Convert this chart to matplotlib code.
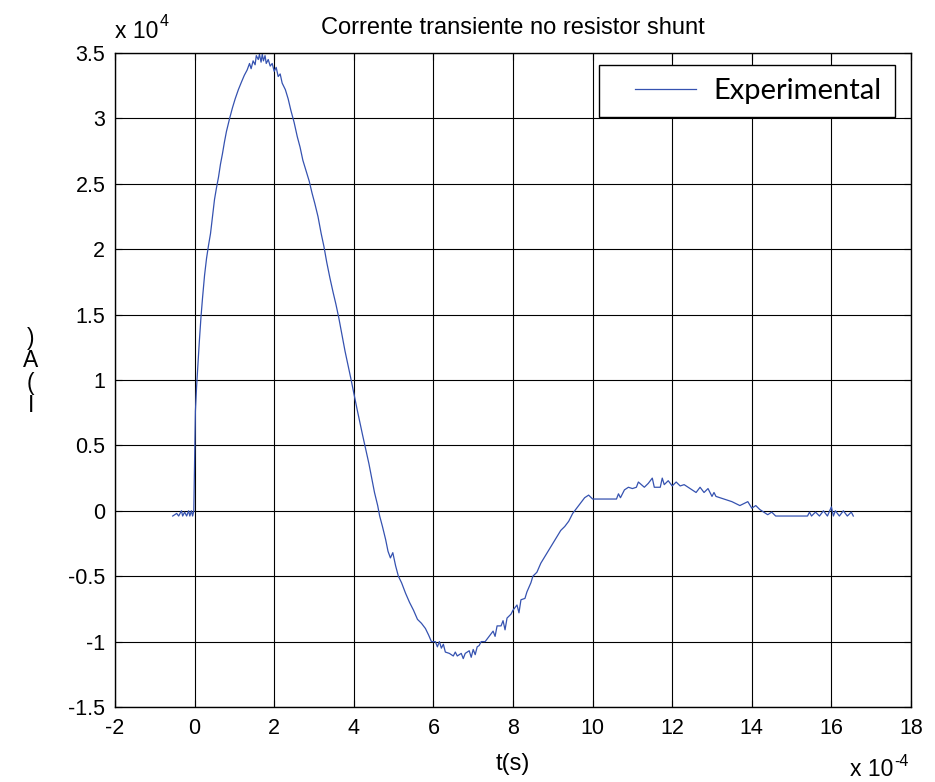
import matplotlib
matplotlib.use("Agg")
import matplotlib.pyplot as plt
from matplotlib.ticker import FuncFormatter
from matplotlib.legend_handler import HandlerLine2D
from matplotlib.lines import Line2D

# time in units of 1e-4 s, current in units of 1e4 A
t_vals = [-0.55, -0.45, -0.40, -0.33, -0.30, -0.25, -0.20, -0.15, -0.12, -0.08, -0.05, -0.02,
          0.00, 0.02, 0.05, 0.08, 0.12, 0.16, 0.20, 0.25, 0.30, 0.35, 0.40, 0.45, 0.50, 0.55,
          0.60, 0.65, 0.70, 0.75, 0.80, 0.88, 0.95, 1.02, 1.10, 1.18, 1.25, 1.32, 1.38, 1.42,
          1.47, 1.52, 1.55, 1.60, 1.63, 1.67, 1.70, 1.73, 1.77, 1.80, 1.85, 1.90, 1.95, 2.00,
          2.05, 2.10, 2.15, 2.20, 2.28, 2.35, 2.42, 2.50, 2.58, 2.65, 2.72, 2.80, 2.88, 2.95,
          3.02, 3.10, 3.18, 3.25, 3.32, 3.40, 3.48, 3.55, 3.62, 3.70, 3.78, 3.85, 3.92, 4.00,
          4.08, 4.15, 4.22, 4.30, 4.38, 4.45, 4.52, 4.60, 4.65, 4.72, 4.80, 4.86, 4.92, 4.98,
          5.05, 5.12, 5.20, 5.30, 5.40, 5.50, 5.60, 5.70, 5.80, 5.88, 5.95, 6.05, 6.10, 6.15,
          6.20, 6.25, 6.30, 6.40, 6.50, 6.55, 6.60, 6.70, 6.75, 6.80, 6.90, 6.95, 7.00, 7.05,
          7.10, 7.15, 7.20, 7.30, 7.40, 7.50, 7.55, 7.60, 7.70, 7.75, 7.80, 7.85, 7.95, 8.00,
          8.10, 8.15, 8.20, 8.30, 8.35, 8.45, 8.50, 8.60, 8.70, 8.80, 8.90, 9.00, 9.10, 9.20,
          9.30, 9.40, 9.50, 9.60, 9.70, 9.80, 9.90, 10.00, 10.20, 10.60, 10.65, 10.70, 10.80,
          10.90, 11.00, 11.10, 11.15, 11.30, 11.40, 11.50, 11.55, 11.70, 11.75, 11.80, 11.90,
          12.00, 12.10, 12.20, 12.30, 12.60, 12.70, 12.80, 12.90, 13.00, 13.05, 13.10, 13.50,
          13.70, 13.90, 14.00, 14.10, 14.20, 14.40, 14.50, 14.60, 15.40, 15.45, 15.50, 15.60,
          15.70, 15.80, 15.90, 16.00, 16.05, 16.10, 16.20, 16.30, 16.40, 16.50, 16.55]
i_vals = [-0.04, -0.02, -0.04, 0.00, -0.04, -0.01, -0.04, 0.00, -0.04, 0.00, -0.04, 0.00,
          0.40, 0.76, 0.95, 1.10, 1.30, 1.48, 1.63, 1.80, 1.93, 2.03, 2.12, 2.25, 2.38, 2.47,
          2.55, 2.65, 2.73, 2.82, 2.90, 3.00, 3.08, 3.15, 3.22, 3.28, 3.33, 3.37, 3.42, 3.38,
          3.44, 3.41, 3.48, 3.45, 3.49, 3.43, 3.49, 3.44, 3.48, 3.42, 3.45, 3.40, 3.42, 3.36,
          3.39, 3.32, 3.34, 3.27, 3.22, 3.15, 3.06, 2.97, 2.86, 2.78, 2.68, 2.60, 2.52, 2.43,
          2.35, 2.25, 2.12, 2.02, 1.90, 1.78, 1.67, 1.58, 1.48, 1.35, 1.22, 1.12, 1.02, 0.90,
          0.78, 0.68, 0.58, 0.47, 0.36, 0.25, 0.14, 0.04, -0.04, -0.12, -0.22, -0.31, -0.36, -0.32,
          -0.42, -0.50, -0.55, -0.63, -0.70, -0.76, -0.83, -0.86, -0.90, -0.95, -1.00, -1.00, -1.04, -1.00,
          -1.05, -1.02, -1.08, -1.09, -1.11, -1.08, -1.11, -1.09, -1.13, -1.09, -1.07, -1.12, -1.06, -1.10,
          -1.04, -1.03, -1.00, -1.00, -0.96, -0.92, -0.96, -0.88, -0.88, -0.84, -0.91, -0.82, -0.79, -0.76,
          -0.72, -0.78, -0.68, -0.67, -0.62, -0.55, -0.50, -0.47, -0.40, -0.35, -0.30, -0.25, -0.20, -0.15,
          -0.12, -0.08, -0.02, 0.02, 0.06, 0.10, 0.12, 0.09, 0.09, 0.09, 0.13, 0.10, 0.16,
          0.18, 0.17, 0.18, 0.22, 0.18, 0.21, 0.25, 0.18, 0.18, 0.25, 0.20, 0.23,
          0.19, 0.22, 0.19, 0.20, 0.14, 0.18, 0.14, 0.17, 0.11, 0.14, 0.11, 0.07,
          0.04, 0.07, 0.02, 0.04, 0.01, -0.03, -0.01, -0.04, -0.04, -0.01, -0.04, -0.01,
          -0.04, 0.00, -0.04, 0.03, -0.04, 0.00, -0.04, 0.00, -0.04, -0.01, -0.04]

x_ticks = [-2, 0, 2, 4, 6, 8, 10, 12, 14, 16, 18]
y_ticks = [-1.5, -1, -0.5, 0, 0.5, 1, 1.5, 2, 2.5, 3, 3.5]

title_text = "Corrente transiente no resistor shunt"
xlabel_text = "t(s)"
ylabel_text = ")\nA\n(\nI"
legend_label = "Experimental"

plt.rcParams["font.family"] = ["Liberation Sans", "DejaVu Sans"]
plt.rcParams["axes.unicode_minus"] = False

fig = plt.figure(figsize=(9.35, 7.82), dpi=100)
L, R, B, T = 115 / 935, 911 / 935, (782 - 707) / 782, (782 - 53) / 782
ax = fig.add_axes([L, B, R - L, T - B])

ax.plot(t_vals, i_vals, color="#3552b0", lw=0.9, label=legend_label)

ax.set_xlim(-2, 18)
ax.set_ylim(-1.5, 3.5)
ax.set_xticks(x_ticks)
ax.set_yticks(y_ticks)
fmt = FuncFormatter(lambda v, p: "%g" % v)
ax.xaxis.set_major_formatter(fmt)
ax.yaxis.set_major_formatter(fmt)
ax.tick_params(direction="in", length=5, width=0.8, top=True, right=True, labelsize=15.5, colors="black")
ax.tick_params(axis="y", pad=7)
ax.tick_params(axis="x", pad=8)
ax.grid(True, color="black", lw=0.8, ls="-")
for s in ax.spines.values():
    s.set_linewidth(1.0)

ax.set_title(title_text, fontsize=17, pad=14)
ax.set_xlabel(xlabel_text, fontsize=17, labelpad=10)
fig.text(0.033, 1 - 372 / 782, ylabel_text, ha="center", va="center", fontsize=16.5, linespacing=0.95)
fig.text(115 / 935, 1 - 31 / 782, "x 10", ha="left", va="center", fontsize=16.5)
fig.text(160 / 935, 1 - 22 / 782, "4", ha="left", va="center", fontsize=11.5)
fig.text(850 / 935, 1 - 770 / 782, "x 10", ha="left", va="center", fontsize=16.5)
fig.text(894 / 935, 1 - 761 / 782, "-4", ha="left", va="center", fontsize=11.5)

leg = ax.legend(loc="upper right", bbox_to_anchor=(0.98, 0.982), fancybox=False,
                edgecolor="black", framealpha=1, borderaxespad=0,
                prop={"family": ["Lato", "DejaVu Sans"], "size": 21},
                handlelength=2.9, borderpad=0.45, handletextpad=0.6,
                handler_map={Line2D: HandlerLine2D(xpad=0.8)})
leg.get_frame().set_linewidth(1.0)

fig.savefig("out.png", dpi=100)
